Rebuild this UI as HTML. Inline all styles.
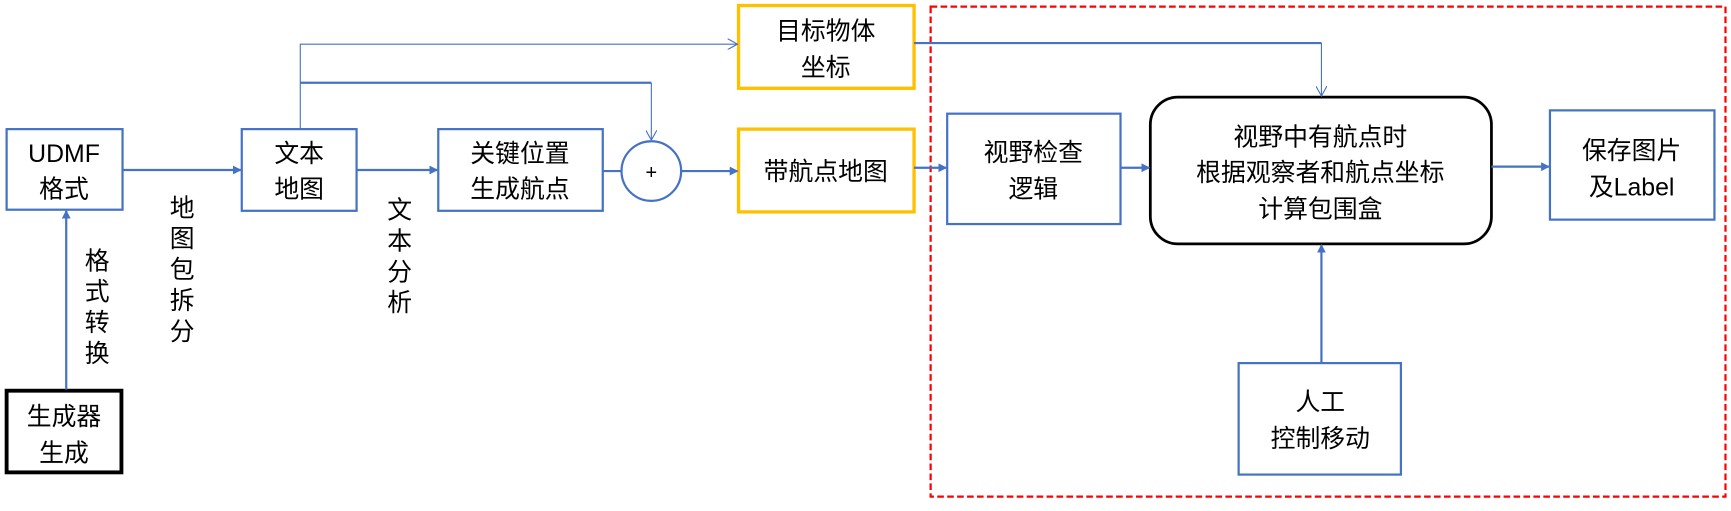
<!DOCTYPE html>
<html><head><meta charset="utf-8"><style>
html,body{margin:0;padding:0;background:#fff;}
svg{display:block;}
text{font-family:"Liberation Sans","Noto Sans CJK SC",sans-serif;font-size:22.5px;fill:#000;text-anchor:middle;}
</style></head><body>
<svg width="1731" height="511" viewBox="0 0 1568 463" preserveAspectRatio="none" xmlns="http://www.w3.org/2000/svg">
<defs>
<marker id="fa" markerWidth="8" markerHeight="8" refX="7" refY="4" orient="auto" markerUnits="userSpaceOnUse"><path d="M0,0 L8,4 L0,8 z" fill="#4472C4"/></marker>
<marker id="oa" markerWidth="10" markerHeight="10" refX="9" refY="5" orient="auto" markerUnits="userSpaceOnUse"><path d="M0,0 L9,5 L0,10" fill="none" stroke="#4472C4" stroke-width="1"/></marker>
</defs>
<g fill="none" stroke="#4472C4" stroke-width="2">
<rect x="6" y="117" width="105" height="73"/>
<rect x="219" y="117" width="104" height="74"/>
<rect x="397" y="117" width="149" height="74"/>
<circle cx="590" cy="155" r="27"/>
<rect x="858" y="103" width="157" height="100"/>
<rect x="1404" y="100" width="149" height="99"/>
<rect x="1122" y="329" width="147" height="101"/>
</g>
<rect x="6" y="354" width="104" height="74" fill="none" stroke="#000" stroke-width="3.5"/>
<rect x="669" y="5" width="159" height="75" fill="none" stroke="#FFC000" stroke-width="3"/>
<rect x="669" y="117" width="159" height="75" fill="none" stroke="#FFC000" stroke-width="3"/>
<rect x="1042" y="88" width="309" height="133" rx="25" fill="none" stroke="#000" stroke-width="2.5"/>
<rect x="843" y="6" width="720" height="444" fill="none" stroke="#FF0000" stroke-width="2" stroke-dasharray="6,3"/>
<g fill="none" stroke="#4472C4" stroke-width="2">
<path d="M60,353 V191" marker-end="url(#fa)"/>
<path d="M111,154 H218" marker-end="url(#fa)"/>
<path d="M323,154 H396" marker-end="url(#fa)"/>
<path d="M546,155 H563"/>
<path d="M617,155 H668" marker-end="url(#fa)"/>
<path d="M828,152 H857" marker-end="url(#fa)"/>
<path d="M1015,152 H1041" marker-end="url(#fa)"/>
<path d="M1351,151 H1403" marker-end="url(#fa)"/>
<path d="M1197,329 V222" marker-end="url(#fa)"/>
<path d="M272,75 H590"/>
<path d="M828,39 H1197"/>
</g>
<g fill="none" stroke="#4472C4" stroke-width="1">
<path d="M272,117 V40 H668" marker-end="url(#oa)"/>
<path d="M590,75 V127" marker-end="url(#oa)"/>
<path d="M1197,39 V87" marker-end="url(#oa)"/>
</g>
<text x="58" y="147">UDMF</text><text x="58" y="179">格式</text>
<text x="58" y="385">生成器</text><text x="58" y="418">生成</text>
<text x="271" y="147">文本</text><text x="271" y="179">地图</text>
<text x="471" y="147">关键位置</text><text x="471" y="179">生成航点</text>
<text x="590" y="162" style="font-size:18px">+</text>
<text x="748" y="36">目标物体</text><text x="748" y="69">坐标</text>
<text x="748" y="163">带航点地图</text>
<text x="936" y="146">视野检查</text><text x="936" y="179">逻辑</text>
<text x="1196" y="132">视野中有航点时</text><text x="1196" y="164">根据观察者和航点坐标</text><text x="1196" y="197">计算包围盒</text>
<text x="1478" y="144">保存图片</text><text x="1478" y="177">及Label</text>
<text x="1196" y="372">人工</text><text x="1196" y="405">控制移动</text>
<g>
<text x="88" y="244">格</text><text x="88" y="272">式</text><text x="88" y="300">转</text><text x="88" y="328">换</text>
<text x="165" y="196">地</text><text x="165" y="224">图</text><text x="165" y="252">包</text><text x="165" y="280">拆</text><text x="165" y="308">分</text>
<text x="362" y="198">文</text><text x="362" y="226">本</text><text x="362" y="254">分</text><text x="362" y="282">析</text>
</g>
</svg>
</body></html>
